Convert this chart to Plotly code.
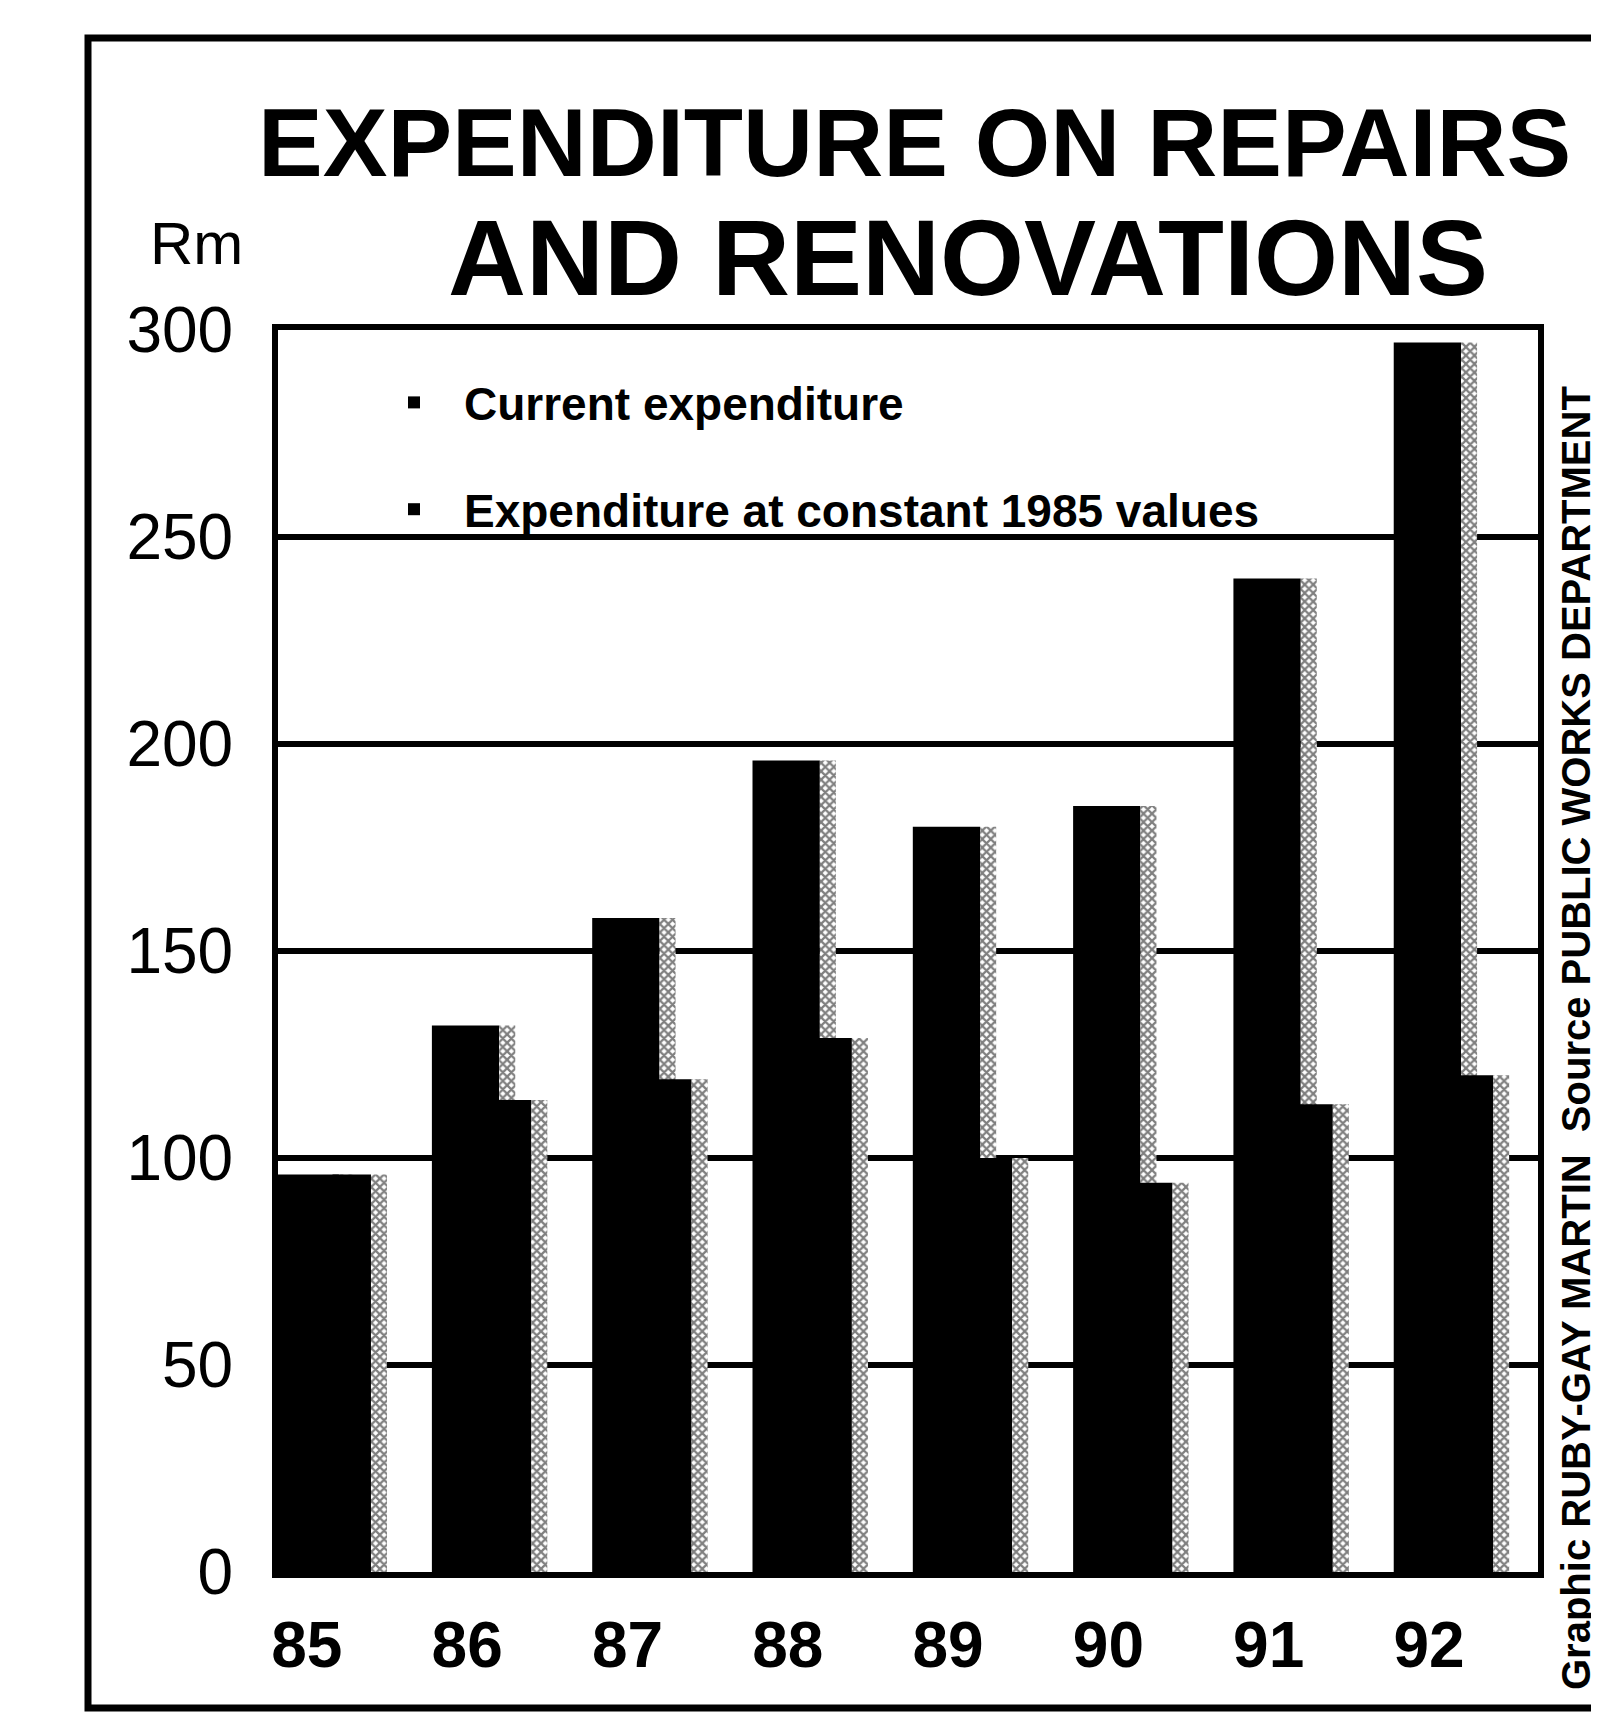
import plotly.graph_objects as go

# ---- data ----
years = ["85", "86", "87", "88", "89", "90", "91", "92"]
current_exp = [96, 132, 158, 196, 180, 185, 240, 297]
constant_exp = [96, 114, 119, 129, 100, 94, 113, 120]
y_ticks = [0, 50, 100, 150, 200, 250, 300]

# ---- layout geometry (pixels) ----
W, H = 1599, 1725
L, R, T, B = 270, 1530, 322, 1564


def px(xp):
    return (xp - L) / (R - L)


def py(yp):
    return (B - yp) / (B - T)


FONT = "Liberation Sans, Arial, Helvetica, sans-serif"
hatch = dict(shape="x", fgcolor="black", bgcolor="white", size=6, solidity=0.6)
shift = 0.14  # bars sit slightly right of their year labels

fig = go.Figure()
fig.add_trace(go.Bar(
    x=years, y=current_exp, name="Current expenditure",
    offset=-0.36 + shift, width=0.42, marker=dict(color="black", line=dict(width=0)),
    legendgroup="a", showlegend=True))
fig.add_trace(go.Bar(
    x=years, y=current_exp, name="Current expenditure (side)",
    offset=0.06 + shift, width=0.10, marker=dict(color="white", pattern=hatch, line=dict(width=0)),
    legendgroup="a", showlegend=False))
fig.add_trace(go.Bar(
    x=years, y=constant_exp, name="Expenditure at constant 1985 values",
    offset=0.02 + shift, width=0.24, marker=dict(color="black", line=dict(width=0)),
    legendgroup="b", showlegend=True))
fig.add_trace(go.Bar(
    x=years, y=constant_exp, name="Expenditure at constant 1985 values (side)",
    offset=0.26 + shift, width=0.10, marker=dict(color="white", pattern=hatch, line=dict(width=0)),
    legendgroup="b", showlegend=False))

fig.update_layout(
    width=W, height=H,
    margin=dict(l=L, r=W - R, t=T, b=H - B, autoexpand=False),
    paper_bgcolor="white", plot_bgcolor="white",
    barmode="overlay",
    font=dict(family=FONT, color="black"),
    showlegend=True,
    legend=dict(
        x=px(356), y=py(358), xanchor="left", yanchor="top",
        bgcolor="rgba(0,0,0,0)", borderwidth=0,
        font=dict(family=FONT, size=46, color="black", weight="bold"),
        traceorder="grouped", tracegroupgap=44, itemwidth=90,
    ),
    xaxis=dict(
        type="category", range=[-0.32 + shift, 7.54 + shift],
        showgrid=False, zeroline=False,
        showline=True, linecolor="black", linewidth=6, mirror=True,
        ticks="", ticklabelstandoff=12,
        tickfont=dict(family=FONT, size=64, color="black", weight="bold"),
    ),
    yaxis=dict(
        range=[0, 300], tickvals=y_ticks,
        showgrid=True, gridcolor="black", gridwidth=6,
        zeroline=False,
        showline=True, linecolor="black", linewidth=6, mirror=True,
        ticks="", ticklabelstandoff=26,
        tickfont=dict(family=FONT, size=64, color="black"),
    ),
)

# outer frame
fig.add_shape(type="rect", xref="paper", yref="paper",
              x0=px(80), x1=px(1592), y0=py(1700), y1=py(30),
              line=dict(color="black", width=7), fillcolor="rgba(0,0,0,0)", layer="below")

# titles
fig.add_annotation(text="<b>EXPENDITURE ON REPAIRS</b>", xref="paper", yref="paper",
                   x=px(906), y=py(134), xanchor="center", yanchor="middle", showarrow=False,
                   font=dict(family=FONT, size=97, color="black"))
fig.add_annotation(text="<b>AND RENOVATIONS</b>", xref="paper", yref="paper",
                   x=px(960), y=py(250), xanchor="center", yanchor="middle", showarrow=False,
                   font=dict(family=FONT, size=108, color="black"))
fig.add_annotation(text="Rm", xref="paper", yref="paper",
                   x=px(188), y=py(236), xanchor="center", yanchor="middle", showarrow=False,
                   font=dict(family=FONT, size=60, color="black"))
fig.add_annotation(text="<b>Graphic RUBY-GAY MARTIN  Source PUBLIC WORKS DEPARTMENT</b>",
                   xref="paper", yref="paper", x=px(1568), y=py(1030),
                   xanchor="center", yanchor="middle", textangle=-90, showarrow=False,
                   font=dict(family=FONT, size=40, color="black"))

fig.write_html("out.html")
